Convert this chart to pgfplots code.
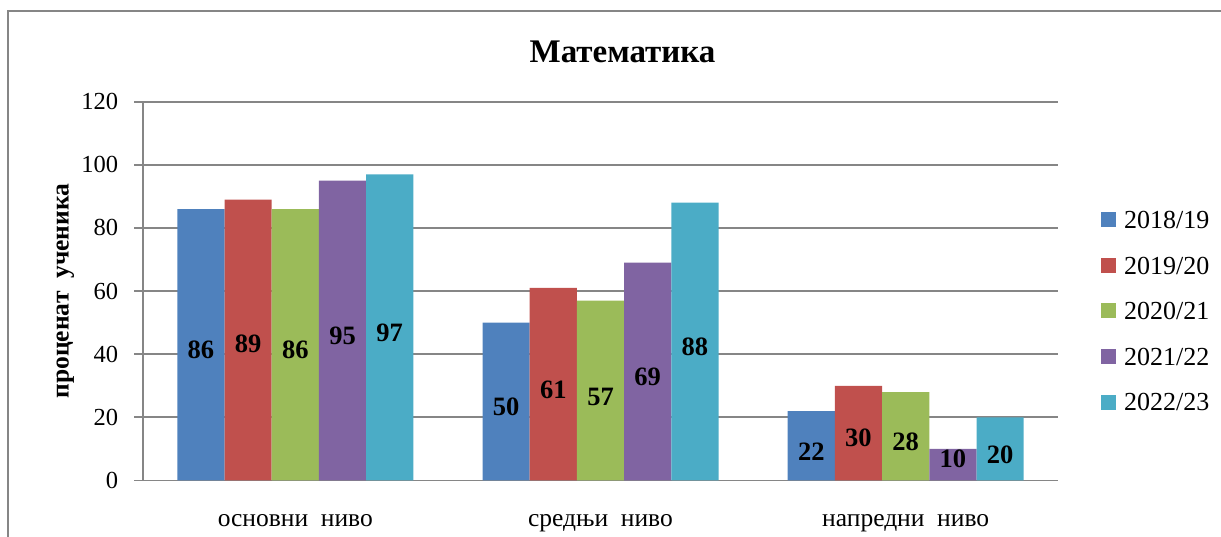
\documentclass[border=0pt]{standalone}
\usepackage{pgfplots}
\pgfplotsset{compat=1.18}
\usepackage{fontspec}
\setmainfont{Liberation Serif}
\definecolor{c1}{HTML}{4F81BD}
\definecolor{c2}{HTML}{C0504D}
\definecolor{c3}{HTML}{9BBB59}
\definecolor{c4}{HTML}{8064A2}
\definecolor{c5}{HTML}{4BACC6}
\definecolor{gridc}{RGB}{134,134,134}
\begin{document}
\begin{tikzpicture}[x=1pt,y=1pt]
\useasboundingbox (0,0) rectangle (1221,537);
\draw[gridc, line width=1.8pt] (8,0) -- (8,526) -- (1221,526);
\node[font=\fontsize{33}{40}\selectfont\bfseries, anchor=base, inner sep=0pt] at (622.5,474) {Математика};
\begin{axis}[
  at={(142.7pt,56.5pt)}, anchor=south west, scale only axis,
  width=915.6pt, height=378.8pt,
  xmin=-0.5, xmax=2.5, ymin=0, ymax=120,
  ytick={0,20,...,120},
  xtick={0,1,2},
  xticklabels={основни\ \ ниво, средњи\ \ ниво, напредни\ \ ниво},
  axis lines*=left,
  axis line style={gridc, line width=1.8pt},
  ymajorgrids,
  grid style={gridc, line width=1.8pt},
  major tick style={gridc, line width=1.8pt},
  tick align=outside,
  major tick length=8.4pt,
  xtick style={draw=none},
  /pgf/number format/assume math mode=true,
  yticklabel style={font=\fontsize{24.5}{29}\selectfont, anchor=east, inner sep=0pt, xshift=-16pt},
  xticklabel style={font=\fontsize{25.5}{30}\selectfont, anchor=base, inner sep=0pt, yshift=-38.1pt},
  ylabel={проценат\ \ ученика},
  ylabel style={font=\fontsize{25.5}{30}\selectfont\bfseries, at={(axis description cs:-0.081,0.5)}, anchor=base, inner sep=0pt},
  legend style={at={(axis description cs:1.0467,0.7115)}, anchor=north west, draw=none, fill=none,
    inner sep=0pt, outer sep=0pt, row sep=28pt, font=\fontsize{26}{31}\selectfont,
    nodes={inner sep=0pt, text height=17.6pt, text depth=0pt},
    /tikz/every odd column/.style={column sep=8pt}},
  legend cell align=left,
  legend image code/.code={\fill[#1] (0pt,-7.5pt) rectangle (15pt,7.5pt);},
  nodes near coords style={font=\fontsize{26.5}{31}\selectfont\bfseries, anchor=center, inner sep=0pt, text=black},
]
% bars
\addplot[ybar, bar width=47.2pt, bar shift=-94.4pt, fill=c1, draw=none] coordinates {(0,86) (1,50) (2,22)};
\addlegendentry{2018/19}
\addplot[ybar, bar width=47.2pt, bar shift=-47.2pt, fill=c2, draw=none] coordinates {(0,89) (1,61) (2,30)};
\addlegendentry{2019/20}
\addplot[ybar, bar width=47.2pt, bar shift=0pt, fill=c3, draw=none] coordinates {(0,86) (1,57) (2,28)};
\addlegendentry{2020/21}
\addplot[ybar, bar width=47.2pt, bar shift=47.2pt, fill=c4, draw=none] coordinates {(0,95) (1,69) (2,10)};
\addlegendentry{2021/22}
\addplot[ybar, bar width=47.2pt, bar shift=94.4pt, fill=c5, draw=none] coordinates {(0,97) (1,88) (2,20)};
\addlegendentry{2022/23}
% value labels (placed at their positions in the reference; x offset = bar shift in axis units)
\addplot[forget plot, ybar, bar width=1pt, bar shift=0pt, draw=none, fill=none, nodes near coords, point meta=explicit symbolic]
  coordinates {(-0.3093,41.5)[86] (0.6907,23.4)[50] (1.6907,9.1)[22]};
\addplot[forget plot, ybar, bar width=1pt, bar shift=0pt, draw=none, fill=none, nodes near coords, point meta=explicit symbolic]
  coordinates {(-0.1547,43.2)[89] (0.8453,28.7)[61] (1.8453,13.6)[30]};
\addplot[forget plot, ybar, bar width=1pt, bar shift=0pt, draw=none, fill=none, nodes near coords, point meta=explicit symbolic]
  coordinates {(0,41.5)[86] (1,26.5)[57] (2,12.4)[28]};
\addplot[forget plot, ybar, bar width=1pt, bar shift=0pt, draw=none, fill=none, nodes near coords, point meta=explicit symbolic]
  coordinates {(0.1547,45.8)[95] (1.1547,32.7)[69] (2.1547,6.9)[10]};
\addplot[forget plot, ybar, bar width=1pt, bar shift=0pt, draw=none, fill=none, nodes near coords, point meta=explicit symbolic]
  coordinates {(0.3093,46.9)[97] (1.3093,42.4)[88] (2.3093,8.1)[20]};
\end{axis}
\end{tikzpicture}
\end{document}
